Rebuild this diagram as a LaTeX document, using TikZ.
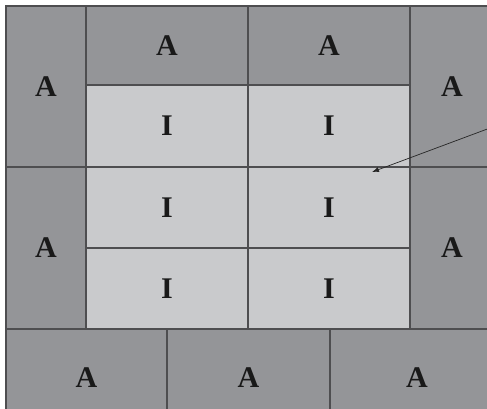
\documentclass[tikz,border=0pt]{standalone}
\usepackage{fontspec}
\setmainfont{Liberation Serif}
\usetikzlibrary{arrows.meta}
\definecolor{adark}{HTML}{949598}
\definecolor{ilight}{HTML}{C9CACC}
\definecolor{edge}{HTML}{4E4E50}
\tikzset{
  cell/.style={draw=edge, line width=1.3pt, inner sep=0pt, outer sep=0pt, text=black!90,
    font=\fontsize{30}{30}\selectfont\bfseries, anchor=center},
  acell/.style={cell, fill=adark},
  icell/.style={cell, fill=ilight},
  pointer/.style={draw=black!85, line width=0.7pt, -{Latex[length=7pt,width=5pt]}}
}
\begin{document}
\begin{tikzpicture}[x=1pt,y=-1pt]
\useasboundingbox (0,0) rectangle (487,408);
\fill[white] (0,0) rectangle (487,408);
\clip (0,0) rectangle (487,408);
% left column
\node[acell, minimum width=80pt, minimum height=161pt] (l1) at (46,86.5) {A};
\node[acell, minimum width=80pt, minimum height=162pt] (l2) at (46,248) {A};
% top row
\node[acell, minimum width=162pt, minimum height=79pt] (t1) at (167,45.5) {A};
\node[acell, minimum width=162pt, minimum height=79pt] (t2) at (329,45.5) {A};
% right column
\node[acell, minimum width=84pt, minimum height=161pt] (r1) at (452,86.5) {A};
\node[acell, minimum width=84pt, minimum height=162pt] (r2) at (452,248) {A};
% inner cells
\node[icell, minimum width=162pt, minimum height=82pt] (i11) at (167,126) {I};
\node[icell, minimum width=162pt, minimum height=82pt] (i12) at (329,126) {I};
\node[icell, minimum width=162pt, minimum height=81pt] (i21) at (167,207.5) {I};
\node[icell, minimum width=162pt, minimum height=81pt] (i22) at (329,207.5) {I};
\node[icell, minimum width=162pt, minimum height=81pt] (i31) at (167,288.5) {I};
\node[icell, minimum width=162pt, minimum height=81pt] (i32) at (329,288.5) {I};
% bottom row
\node[acell, minimum width=161pt, minimum height=98pt] (b1) at (86.5,378) {A};
\node[acell, minimum width=163pt, minimum height=98pt] (b2) at (248.5,378) {A};
\node[acell, minimum width=174pt, minimum height=98pt] (b3) at (417,378) {A};
% pointer
\coordinate (ptrstart) at (490,128);
\coordinate (ptrend) at (372,172);
\draw[pointer] (ptrstart) -- (ptrend);
\end{tikzpicture}
\end{document}
